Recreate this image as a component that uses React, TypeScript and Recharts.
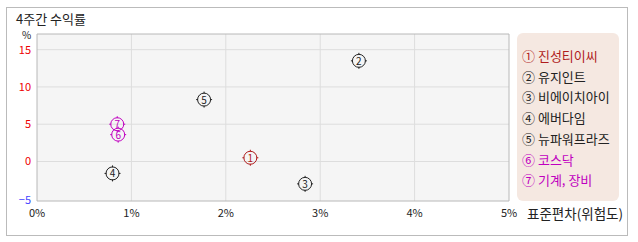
import React from 'react';
import { ScatterChart, Scatter, XAxis, YAxis, CartesianGrid, ReferenceArea } from 'recharts';

const names = ['진성티이씨', '유지인트', '비에이치아이', '에버다임', '뉴파워프라즈', '코스닥', '기계, 장비'];
const marks = ['①', '②', '③', '④', '⑤', '⑥', '⑦'];
const risk = [2.26, 3.41, 2.84, 0.8, 1.77, 0.86, 0.85];
const returns = [0.5, 13.5, -3.0, -1.6, 8.3, 3.6, 5.0];
const colors = ['#b01c1c', '#222222', '#222222', '#222222', '#222222', '#c000c0', '#c000c0'];
const xTicks = [0, 1, 2, 3, 4, 5];
const yTicks = [-5, 0, 5, 10, 15];

const font = '"Noto Sans CJK KR", "DejaVu Sans", sans-serif';

const data = names.map((n, i) => ({ name: n, x: risk[i], y: returns[i], idx: i }));

const Marker = (props: any) => {
  const { cx, cy, payload } = props;
  const c = colors[payload.idx];
  return (
    <g>
      <circle cx={cx} cy={cy} r={6.5} fill="none" stroke={c} strokeWidth={1} />
      <line x1={cx} y1={cy - 8} x2={cx} y2={cy - 6} stroke={c} />
      <line x1={cx} y1={cy + 6} x2={cx} y2={cy + 8} stroke={c} />
      <line x1={cx - 8} y1={cy} x2={cx - 6} y2={cy} stroke={c} />
      <line x1={cx + 6} y1={cy} x2={cx + 8} y2={cy} stroke={c} />
      <text x={cx} y={cy + 4} textAnchor="middle" fontSize={10} fill={c} fontFamily={font}>
        {payload.idx + 1}
      </text>
    </g>
  );
};

const XTick = (props: any) => {
  const { x, payload } = props;
  return (
    <text x={x} y={217} textAnchor="middle" fontSize={11} fill="#222" fontFamily={font}>
      {payload.value}%
    </text>
  );
};

const YTick = (props: any) => {
  const { y, payload } = props;
  const yy = payload.value === -5 ? 200 : y;
  return (
    <text x={31} y={yy + 4} textAnchor="end" fontSize={11} fill={payload.value < 0 ? '#4444ff' : '#ee0000'} fontFamily={font}>
      {payload.value < 0 ? '\u2212' + Math.abs(payload.value) : payload.value}
    </text>
  );
};

export default function App() {
  return (
    <div style={{ position: 'absolute', left: 0, top: 0, width: 638, height: 242, background: '#fff', fontFamily: font }}>
      <div style={{ position: 'absolute', left: 6, top: 7, width: 620, height: 227, border: '1px solid #bbb' }} />
      <div style={{ position: 'absolute', left: 16, top: 11, fontSize: 13, lineHeight: '15px', color: '#222' }}>4주간 수익률</div>
      <div style={{ position: 'absolute', left: 22, top: 30, fontSize: 10, lineHeight: '10px', color: '#222' }}>%</div>
      <div style={{ position: 'absolute', left: 527, top: 205, fontSize: 13.5, lineHeight: '17px', color: '#222' }}>표준편차(위험도)</div>
      <div style={{ position: 'absolute', left: 0, top: 0 }}>
        <ScatterChart width={638} height={242} margin={{ top: 34, right: 129, left: 0, bottom: 0 }}>
          <CartesianGrid stroke="#dddddd" fill="#f5f5f5" horizontalValues={[0, 5, 10, 15]} verticalValues={[1, 2, 3, 4]} />
          <XAxis type="number" dataKey="x" domain={[0, 5]} ticks={xTicks} height={41} tick={<XTick />} tickLine={false} axisLine={false} interval={0} />
          <YAxis type="number" dataKey="y" domain={[-5.3, 17.1]} ticks={yTicks} width={37} tick={<YTick />} tickLine={false} axisLine={false} interval={0} allowDataOverflow />
          <ReferenceArea x1={0} x2={5} y1={-5.3} y2={17.1} fill="none" stroke="#b8b8b8" strokeWidth={1} />
          <Scatter data={data} shape={<Marker />} isAnimationActive={false} />
        </ScatterChart>
      </div>
      <div style={{ position: 'absolute', left: 517, top: 33, width: 102, height: 168, background: '#f5e8e1', borderRadius: 6 }}>
        {names.map((n, i) => (
          <div key={n} style={{ position: 'absolute', left: 5, top: 14 + i * 20.7, fontSize: 13, lineHeight: '17px', color: colors[i], whiteSpace: 'nowrap' }}>
            {marks[i]} {n}
          </div>
        ))}
      </div>
    </div>
  );
}
